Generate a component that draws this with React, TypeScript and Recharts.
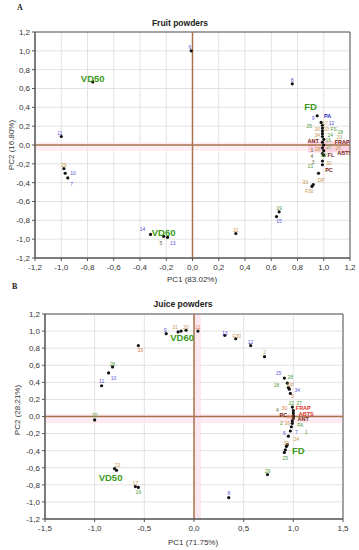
import React from 'react';
import { ScatterChart, Scatter, XAxis, YAxis, CartesianGrid, ReferenceLine, ReferenceArea } from 'recharts';

// ---------- ticks ----------
const aTicks = [-1.2, -1.0, -0.8, -0.6, -0.4, -0.2, 0.0, 0.2, 0.4, 0.6, 0.8, 1.0, 1.2];
const bXTicks = [-1.5, -1.0, -0.5, 0.0, 0.5, 1.0, 1.5];
const bYTicks = [-1.2, -1.0, -0.8, -0.6, -0.4, -0.2, 0.0, 0.2, 0.4, 0.6, 0.8, 1.0, 1.2];

// ---------- Panel A : Fruit powders ----------
const aDotX = [-0.01, -0.76, 0.76, -1.0, 0.95, -0.98, -0.97, -0.95, -0.32, -0.22, -0.19, 0.33, 0.66, 0.64, 0.96, 0.92, 0.91, 0.99, 0.99,
  0.98, 0.99, 0.99, 0.99, 0.99, 0.99, 1.0, 0.99, 1.0, 0.99, 1.0, 0.99, 1.0];
const aDotY = [1.0, 0.67, 0.65, 0.09, 0.31, -0.25, -0.3, -0.35, -0.95, -0.97, -0.98, -0.94, -0.71, -0.76, -0.3, -0.42, -0.44, -0.17, -0.21,
  0.24, 0.21, 0.18, 0.15, 0.12, 0.09, 0.06, 0.03, 0.0, -0.03, -0.06, -0.09, -0.11];

const aLabelText = ['6', 'VD50', '8', '11', 'FD', '9', 'PA', '25', '17', '12', '30', '20', 'FS', '18', '34', '24', '23', 'ANT', '16', 'FRAP',
  '28', '27', '26', '1', '4', '3', '22', 'FL', 'ABTS', '21', '32', 'PC', 'DP', '33', 'F30', '29', '10', '7', '14', 'VD60', '5', '13', '31', '19', '15'];
const aLabelX = [-0.02, -0.76, 0.76, -1.01, 0.9, 0.92, 1.03, 0.89, 1.01, 1.06, 0.95, 1.02, 1.075, 1.125, 0.95, 1.05, 1.12, 0.92, 1.035, 1.14,
  0.955, 1.04, 1.11, 0.91, 0.91, 0.92, 1.0, 1.055, 1.16, 0.9, 1.04, 1.04, 0.98, 0.86, 0.89, -0.98, -0.91, -0.92, -0.38, -0.22, -0.24, -0.15, 0.33, 0.66, 0.66];
const aLabelY = [1.04, 0.71, 0.69, 0.13, 0.41, 0.29, 0.31, 0.2, 0.23, 0.23, 0.17, 0.17, 0.17, 0.14, 0.11, 0.11, 0.08, 0.04, 0.05, 0.03,
  -0.04, -0.02, -0.03, -0.05, -0.115, -0.18, -0.11, -0.11, -0.09, -0.22, -0.19, -0.27, -0.37, -0.39, -0.49, -0.21, -0.3, -0.41, -0.89, -0.93, -1.04, -1.04, -0.9, -0.67, -0.81];
const aLabelKind = ['b', 'G', 'b', 'b', 'G', 'b', 'B', 'g', 'o', 'b', 'o', 'o', 'g', 'g', 'o', 'g', 'o', 'v', 'g', 'v',
  'o', 'g', 'o', 'd', 'd', 'd', 'g', 'v', 'v', 'g', 'o', 'v', 'o', 'o', 'o', 'o', 'b', 'b', 'b', 'G', 'd', 'b', 'o', 'g', 'b'];

// ---------- Panel B : Juice powders ----------
const bDotX = [-0.28, -0.16, -0.13, -0.08, 0.04, 0.31, 0.42, 0.57, 0.71, -0.56, -0.82, -0.86, -0.93, 0.91, 0.94, 0.95, 0.96, 0.97,
  0.99, 1.0, 1.0, 1.0, 1.0, 0.99, 0.99, 0.98, 0.97, 0.95, 0.94, 0.93, 0.92, 0.91, -1.0, -0.8, -0.78, -0.59, -0.56, 0.74, 0.35];
const bDotY = [0.97, 0.99, 1.0, 1.01, 1.0, 0.95, 0.91, 0.83, 0.7, 0.83, 0.58, 0.51, 0.36, 0.45, 0.39, 0.34, 0.32, 0.27,
  0.11, 0.07, 0.04, 0.01, -0.02, -0.05, -0.08, -0.12, -0.17, -0.23, -0.33, -0.35, -0.39, -0.42, -0.04, -0.61, -0.63, -0.82, -0.83, -0.68, -0.95];

const bLabelText = ['9', '31', '20', 'VD60', '11', '13', 'F30', '12', '2', '33', '26', '10', '11', '15', '28', '18', 'DP', '34', '3', '22', '27',
  'FRAP', '4', '30', 'PC', 'ABTS', 'FS', 'ANT', '2', '16', 'PA', '6', '7', '1', '24', '32', 'FD', '25', '20', '23', 'VD50', '17', '19', '29', '8'];
const bLabelX = [-0.29, -0.19, -0.08, -0.12, 0.04, 0.31, 0.43, 0.57, 0.71, -0.54, -0.82, -0.81, -0.93, 0.85, 0.97, 0.83, 0.97, 1.04, 0.99, 0.98, 1.06,
  1.1, 0.84, 0.91, 0.9, 1.13, 0.97, 1.1, 0.88, 0.94, 1.07, 0.91, 1.03, 1.13, 1.03, 0.93, 1.05, 0.92, -1.0, -0.77, -0.84, -0.59, -0.56, 0.74, 0.35];
const bLabelY = [1.01, 1.05, 1.05, 0.93, 1.05, 0.98, 0.94, 0.87, 0.75, 0.78, 0.62, 0.45, 0.41, 0.51, 0.46, 0.37, 0.37, 0.31, 0.235, 0.16, 0.16,
  0.095, 0.08, 0.095, 0.02, 0.03, -0.01, -0.035, -0.08, -0.08, -0.1, -0.19, -0.185, -0.18, -0.265, -0.31, -0.4, -0.48, 0.02, -0.57, -0.71, -0.78, -0.88, -0.64, -0.89];
const bLabelKind = ['b', 'o', 'o', 'G', 'r', 'b', 'o', 'b', 'o', 'r', 'g', 'b', 'b', 'b', 'g', 'g', 'o', 'b', 'r', 'g', 'g',
  'vr', 'd', 'r', 'v', 'vr', 'r', 'v', 'g', 'o', 'g', 'b', 'b', 'g', 'o', 'o', 'G', 'g', 'g', 'o', 'G', 'o', 'g', 'g', 'b'];

// ---------- styling ----------
const KIND_STYLE: Record<string, { color: string; size: number; weight: string }> = {
  b: { color: '#5a4fd8', size: 5, weight: 'normal' },
  B: { color: '#2f2fc0', size: 5.5, weight: 'bold' },
  o: { color: '#c9964c', size: 5, weight: 'normal' },
  r: { color: '#e47a45', size: 5, weight: 'normal' },
  g: { color: '#4f9a3a', size: 5, weight: 'normal' },
  d: { color: '#6b5a40', size: 5, weight: 'normal' },
  v: { color: '#7a1c10', size: 5.5, weight: 'bold' },
  vr: { color: '#d8352a', size: 5.5, weight: 'bold' },
  G: { color: '#3a9a1a', size: 9.5, weight: 'bold' },
};

const FONT = '"Liberation Sans", Arial, sans-serif';
const fmt = (v: number) => v.toFixed(1).replace('.', ',');

const zip = (xs: number[], ys: number[]) => xs.map((x, i) => ({ x, y: ys[i] }));
const zipLabels = (t: string[], xs: number[], ys: number[], k: string[]) =>
  t.map((text, i) => ({ text, x: xs[i], y: ys[i], kind: k[i] }));

const aDots = zip(aDotX, aDotY);
const bDots = zip(bDotX, bDotY);
const aLabels = zipLabels(aLabelText, aLabelX, aLabelY, aLabelKind);
const bLabels = zipLabels(bLabelText, bLabelX, bLabelY, bLabelKind);

const DotShape = (p: any) => <circle cx={p.cx} cy={p.cy} r={1.6} fill="#111" />;
const LabelShape = (p: any) => {
  const st = KIND_STYLE[p.payload.kind];
  return (
    <text x={p.cx} y={p.cy} textAnchor="middle" dominantBaseline="central" fontSize={st.size}
      fontWeight={st.weight} fill={st.color} fontFamily={FONT}>{p.payload.text}</text>
  );
};

const tickStyle = { fontSize: 8, fill: '#333', fontFamily: FONT };
const axisColor = '#555';
const zeroColor = '#a8734c';

export default function App() {
  return (
    <div style={{ position: 'absolute', left: 0, top: 0, width: 359, height: 550, background: '#fff' }}>
      <div style={{ position: 'absolute', left: 0, top: 0 }}>
        <ScatterChart width={359} height={280} margin={{ top: 32, right: 9, bottom: 2, left: 5 }}>
          <CartesianGrid stroke="#e2e2e2" />
          <ReferenceArea x1={-1.2} x2={1.2} y1={-0.06} y2={0.03} fill="#fde6ee" fillOpacity={0.7} stroke="none" />
          <ReferenceArea x1={0.88} x2={1.2} y1={-0.08} y2={0.04} fill="#f7bfd2" fillOpacity={0.6} stroke="none" />
          <XAxis type="number" dataKey="x" domain={[-1.2, 1.2]} ticks={aTicks} tickFormatter={fmt} height={20}
            tick={tickStyle} tickSize={3} tickMargin={3} stroke={axisColor} allowDataOverflow interval={0} />
          <YAxis type="number" dataKey="y" domain={[-1.2, 1.2]} ticks={aTicks} tickFormatter={fmt} width={30}
            tick={tickStyle} tickSize={3} tickMargin={2} stroke={axisColor} allowDataOverflow interval={0} />
          <ReferenceArea x1={-1.2} x2={1.2} y1={-1.2} y2={1.2} fill="none" stroke={axisColor} strokeWidth={1} />
          <ReferenceLine x={0} stroke={zeroColor} strokeWidth={1.5} />
          <ReferenceLine y={0} stroke={zeroColor} strokeWidth={1.5} />
          <Scatter data={aDots} shape={DotShape} isAnimationActive={false} />
          <Scatter data={aLabels} shape={LabelShape} isAnimationActive={false} />
        </ScatterChart>
      </div>
      <div style={{ position: 'absolute', left: 0, top: 280 }}>
        <ScatterChart width={359} height={270} margin={{ top: 34, right: 16, bottom: 11, left: 15 }}>
          <CartesianGrid stroke="#e2e2e2" />
          <ReferenceArea x1={-1.5} x2={1.5} y1={-0.08} y2={0.03} fill="#fde6ee" fillOpacity={0.8} stroke="none" />
          <ReferenceArea x1={0} x2={0.07} y1={-1.2} y2={1.2} fill="#fde6ee" fillOpacity={0.9} stroke="none" />
          <XAxis type="number" dataKey="x" domain={[-1.5, 1.5]} ticks={bXTicks} tickFormatter={fmt} height={20}
            tick={tickStyle} tickSize={3} tickMargin={3} stroke={axisColor} allowDataOverflow interval={0} />
          <YAxis type="number" dataKey="y" domain={[-1.2, 1.2]} ticks={bYTicks} tickFormatter={fmt} width={30}
            tick={tickStyle} tickSize={3} tickMargin={2} stroke={axisColor} allowDataOverflow interval={0} />
          <ReferenceArea x1={-1.5} x2={1.5} y1={-1.2} y2={1.2} fill="none" stroke={axisColor} strokeWidth={1} />
          <ReferenceLine x={0} stroke={zeroColor} strokeWidth={1.5} />
          <ReferenceLine y={0} stroke={zeroColor} strokeWidth={1.5} />
          <Scatter data={bDots} shape={DotShape} isAnimationActive={false} />
          <Scatter data={bLabels} shape={LabelShape} isAnimationActive={false} />
        </ScatterChart>
      </div>
      <svg width={359} height={550} style={{ position: 'absolute', left: 0, top: 0, pointerEvents: 'none' }}>
        <text x={17} y={10} fontSize={8} fontWeight="bold" fontFamily='"Liberation Serif", serif' fill="#222">A</text>
        <text x={180} y={26} textAnchor="middle" fontSize={8.5} fontWeight="bold" fontFamily={FONT} fill="#222">Fruit powders</text>
        <text x={192} y={282} textAnchor="middle" fontSize={8} fontFamily={FONT} fill="#333">PC1 (83.02%)</text>
        <text x={0} y={0} transform="translate(14,145) rotate(-90)" textAnchor="middle" fontSize={8} fontFamily={FONT} fill="#333">PC2 (16.80%)</text>
        <text x={12} y={289} fontSize={8} fontWeight="bold" fontFamily='"Liberation Serif", serif' fill="#222">B</text>
        <text x={183} y={307} textAnchor="middle" fontSize={8.5} fontWeight="bold" fontFamily={FONT} fill="#222">Juice powders</text>
        <text x={193} y={545} textAnchor="middle" fontSize={8} fontFamily={FONT} fill="#333">PC1 (71.75%)</text>
        <text x={0} y={0} transform="translate(20,410) rotate(-90)" textAnchor="middle" fontSize={8} fontFamily={FONT} fill="#333">PC2 (28.21%)</text>
      </svg>
    </div>
  );
}
